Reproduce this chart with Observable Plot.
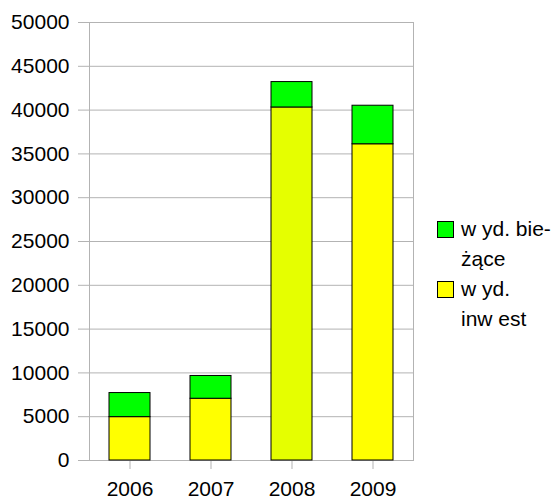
<!DOCTYPE html>
<html>
<head>
<meta charset="utf-8">
<script src="https://cdn.jsdelivr.net/npm/d3@7"></script>
<script src="https://cdn.jsdelivr.net/npm/@observablehq/plot@0.6"></script>
<style>
  html, body { margin: 0; padding: 0; background: #fff; }
  #wrap { position: relative; width: 556px; height: 501px; font-family: "Liberation Sans", Arial, sans-serif; }
  #wrap svg { position: absolute; left: 0; top: 0; }
  .sw { position: absolute; width: 15px; height: 15px; border: 1px solid #000; box-sizing: content-box; }
  .lt { position: absolute; font-size: 21px; line-height: 30px; color: #000; white-space: nowrap; }
</style>
</head>
<body>
<div id="wrap"></div>
<script>
const years = ["2006", "2007", "2008", "2009"];
const invest = [4950, 7050, 40300, 36100];   // wyd. inwest
const current = [2750, 2600, 2900, 4400];    // wyd. bieżące
const yTicks = [0, 5000, 10000, 15000, 20000, 25000, 30000, 35000, 40000, 45000, 50000];
const seriesLabels = ["w yd. bie-\nżące", "w yd.\ninw est"];

const rows = [];
years.forEach((y, i) => rows.push({year: y, series: "invest", value: invest[i]}));
years.forEach((y, i) => rows.push({year: y, series: "current", value: current[i]}));

const fillOf = d => d.series === "current" ? "#00ff00" : (d.year === "2008" ? "#e5ff00" : "#ffff00");

const chart = Plot.plot({
  width: 556,
  height: 501,
  marginLeft: 89,
  marginRight: 143,
  marginTop: 22,
  marginBottom: 41,
  style: {fontFamily: "'Liberation Sans', Arial, sans-serif", fontSize: "21px", color: "#000", background: "#fff"},
  x: {domain: years, paddingInner: 0.5, paddingOuter: 0.25, align: 0.5, label: null},
  y: {domain: [0, 50000], label: null},
  marks: [
    Plot.gridY(yTicks, {stroke: "#b3b3b3", strokeOpacity: 1}),
    Plot.frame({stroke: "#b3b3b3"}),
    Plot.axisY(yTicks, {tickSize: 11, tickPadding: 9, stroke: "#b3b3b3", fill: "#000", label: null, tickFormat: d => String(d)}),
    Plot.axisX({tickSize: 9, tickPadding: 12, stroke: "#b3b3b3", fill: "#000", label: null}),
    Plot.barY(rows, {x: "year", y: "value", fill: fillOf, stroke: "#000", strokeWidth: 1, order: ["invest", "current"], z: "series"})
  ]
});

const wrap = document.getElementById("wrap");
wrap.appendChild(chart);

// legend
const legendItems = [
  {label: seriesLabels[0], color: "#00ff00", top: 221},
  {label: seriesLabels[1], color: "#ffff00", top: 281}
];
legendItems.forEach(it => {
  const sw = document.createElement("div");
  sw.className = "sw";
  sw.style.left = "437px";
  sw.style.top = it.top + "px";
  sw.style.background = it.color;
  wrap.appendChild(sw);
  const lines = it.label.split("\n");
  lines.forEach((ln, k) => {
    const t = document.createElement("div");
    t.className = "lt";
    t.style.left = "461px";
    t.style.top = (it.top - 7 + k * 30) + "px";
    t.textContent = ln;
    wrap.appendChild(t);
  });
});
</script>
</body>
</html>
